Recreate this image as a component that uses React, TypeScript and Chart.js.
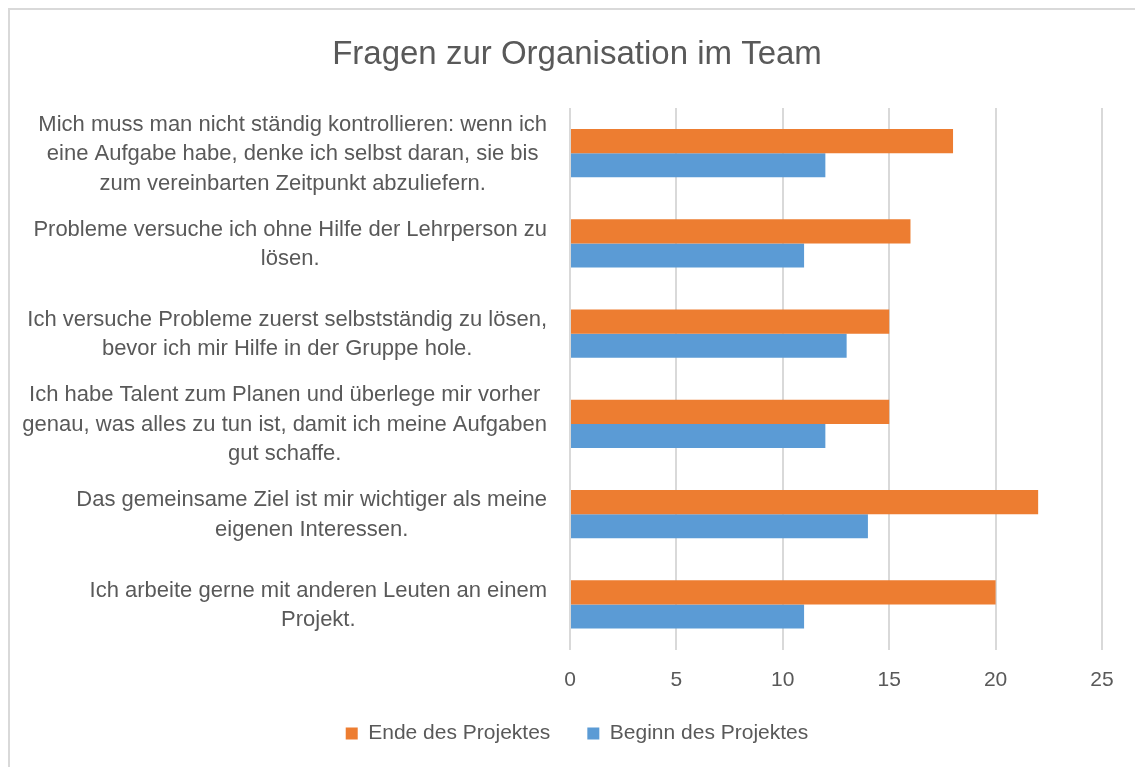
import React, { useEffect, useRef } from "react";
import { Chart, registerables } from "chart.js";

Chart.register(...registerables);

const categories: string[][] = [
  [
    "Mich muss man nicht ständig kontrollieren: wenn ich",
    "eine Aufgabe habe, denke ich selbst daran, sie bis",
    "zum vereinbarten Zeitpunkt abzuliefern.",
  ],
  ["Probleme versuche ich ohne Hilfe der Lehrperson zu", "lösen."],
  ["Ich versuche Probleme zuerst selbstständig zu lösen,", "bevor ich mir Hilfe in der Gruppe hole."],
  [
    "Ich habe Talent zum Planen und überlege mir vorher",
    "genau, was alles zu tun ist, damit ich meine Aufgaben",
    "gut schaffe.",
  ],
  ["Das gemeinsame Ziel ist mir wichtiger als meine", "eigenen Interessen."],
  ["Ich arbeite gerne mit anderen Leuten an einem", "Projekt."],
];

const seriesNames = ["Ende des Projektes", "Beginn des Projektes"];
const endeValues = [18, 16, 15, 15, 22, 20];
const beginnValues = [12, 11, 13, 12, 14, 11];
const xTickValues = [0, 5, 10, 15, 20, 25];
const chartTitle = "Fragen zur Organisation im Team";

const FONT = "'Liberation Sans', Arial, sans-serif";
const TEXT = "#595959";
const ORANGE = "#ED7D31";
const BLUE = "#5B9BD5";
const GRID = "#D9D9D9";

const wrappedLabels = {
  id: "wrappedLabels",
  afterDraw(chart: any) {
    const y = chart.scales.y;
    const ctx = chart.ctx as CanvasRenderingContext2D;
    ctx.save();
    ctx.font = `22px ${FONT}`;
    ctx.fillStyle = TEXT;
    ctx.textAlign = "center";
    ctx.textBaseline = "middle";
    categories.forEach((lines, i) => {
      const widest = Math.max(...lines.map((l) => ctx.measureText(l).width));
      const cx = y.right - 23 - widest / 2;
      const cy = y.getPixelForValue(i) + 1;
      lines.forEach((line, j) => {
        ctx.fillText(line, cx, cy + (j - (lines.length - 1) / 2) * 29.5);
      });
    });
    ctx.restore();
  },
};

export default function App() {
  const ref = useRef<HTMLCanvasElement | null>(null);

  useEffect(() => {
    if (!ref.current) return;
    const chart = new Chart(ref.current, {
      type: "bar",
      data: {
        labels: categories.map((l) => l.join(" ")),
        datasets: [
          { label: seriesNames[0], data: endeValues, backgroundColor: ORANGE, borderWidth: 0 },
          { label: seriesNames[1], data: beginnValues, backgroundColor: BLUE, borderWidth: 0 },
        ],
      },
      options: {
        indexAxis: "y",
        responsive: false,
        animation: false,
        layout: { padding: { left: 42, right: 33, top: 0, bottom: 0 } },
        datasets: { bar: { categoryPercentage: 0.532, barPercentage: 1 } },
        scales: {
          x: {
            min: 0,
            max: 25,
            afterBuildTicks: (scale: any) => {
              scale.ticks = xTickValues.map((v) => ({ value: v }));
            },
            afterFit: (scale: any) => {
              scale.height = 36.5;
            },
            grid: { color: GRID, lineWidth: 2, drawTicks: false },
            border: { display: false },
            ticks: { color: TEXT, font: { family: FONT, size: 21 }, padding: 18 },
          },
          y: {
            grid: { display: false, drawTicks: false },
            border: { display: false },
            ticks: { display: false },
            afterFit: (scale: any) => {
              scale.width = 518;
            },
          },
        },
        plugins: {
          title: {
            display: true,
            text: chartTitle,
            color: TEXT,
            font: { family: FONT, size: 33, weight: "normal" },
            padding: { top: 25, bottom: 33.4 },
          },
          legend: {
            position: "bottom",
            labels: {
              color: TEXT,
              font: { family: FONT, size: 21 },
              boxWidth: 12,
              boxHeight: 12,
              padding: 37,
            },
          },
          tooltip: { enabled: false },
        },
      },
      plugins: [wrappedLabels],
    });
    return () => chart.destroy();
  }, []);

  return (
    <div
      style={{
        position: "fixed",
        left: 8,
        top: 8,
        width: 1127,
        height: 759,
        borderLeft: "2px solid #D9D9D9",
        borderTop: "2px solid #D9D9D9",
        overflow: "hidden",
        background: "#fff",
      }}
    >
      <canvas ref={ref} width={1125} height={744} style={{ display: "block", width: 1125, height: 744 }} />
    </div>
  );
}
